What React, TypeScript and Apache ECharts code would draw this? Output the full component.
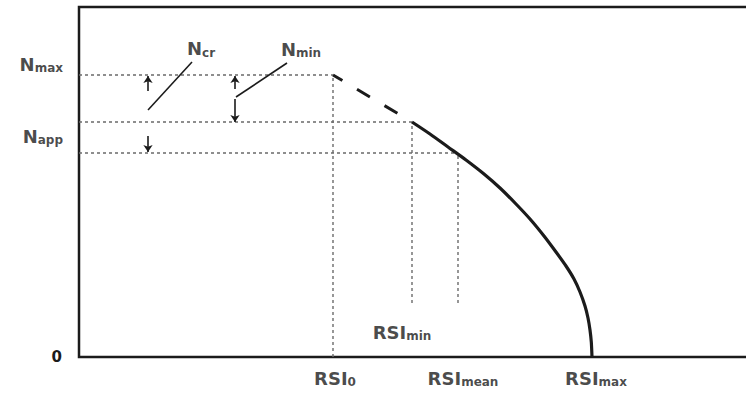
import React, { useEffect, useRef } from "react";
import * as echarts from "echarts";

// Axis extents (arbitrary units: RSI along x, N along y)
const X_MAX = 140;
const Y_MAX = 70;

// Characteristic RSI values
const rsiNames = ["0", "min", "mean", "max"];
const rsiValues = [50.8, 66.6, 75.8, 102.6];

// Characteristic N levels: N_max, N at RSI_min, N_app
const levelNames = ["max", "low", "app"];
const levelValues = [56.4, 47, 40.8];

// Bottom end of the short guides below RSI_min and RSI_mean
const guideFloor = 10.8;

// Falling branch of N(RSI) from RSI_min down to RSI_max
const curveRsi = [
  66.6, 70.2, 73.8, 77.4, 81.0, 84.2, 87.4, 90.2, 93.0, 95.4, 97.4, 99.0, 100.2, 101.2, 101.8, 102.2,
  102.46, 102.6,
];
const curveN = [
  47, 44.6, 42, 39.4, 36.6, 33.8, 30.6, 27.6, 24.2, 21, 18.2, 15.6, 13, 10.2, 7.8, 5.4, 3, 0,
];

// Dimension arrows for N_cr and N_min: [x, tailY, tipY]
const arrowNcr = [
  [13.8, 53.2, 56.2],
  [13.8, 44.2, 41.0],
];
const arrowNmin = [
  [31.2, 53.6, 56.2],
  [31.2, 51.6, 47.0],
];

// Leader lines from the labels to the dimension arrows
const leaderNcr = [
  [22.6, 59.0],
  [13.8, 49.4],
];
const leaderNmin = [
  [41.6, 58.8],
  [31.4, 52.0],
];

// Label anchor centres for N_cr and N_min
const labelNcr = [24.4, 61.7];
const labelNmin = [44.4, 61.6];

const FONT = "'DejaVu Sans', 'Liberation Sans', Arial, sans-serif";
const INK = "#1b1b1b";
const GUIDE = "#6a6a6a";

const rich = {
  b: { fontSize: 18, fontWeight: "bold" as const, fontFamily: FONT, color: INK, lineHeight: 20 },
  s: {
    fontSize: 12,
    fontWeight: "bold" as const,
    fontFamily: FONT,
    color: INK,
    lineHeight: 12,
    verticalAlign: "bottom" as const,
  },
};

const sym = (main: string, sub: string) => `{b|${main}}{s|${sub}}`;

export default function App() {
  const ref = useRef<HTMLDivElement>(null);

  useEffect(() => {
    if (!ref.current) return;
    const chart = echarts.init(ref.current, null, { renderer: "svg" });

    const [rsi0, rsiMin, rsiMean, rsiMax] = rsiValues;
    const [nMax, nLow, nApp] = levelValues;

    const guide = (pts: number[][]) => ({
      type: "line",
      data: pts,
      symbol: "none",
      silent: true,
      lineStyle: { color: GUIDE, width: 1.4, type: [3, 3] },
      z: 2,
    });

    const curveData = curveRsi.map((x, i) => [x, curveN[i]]);

    const arrowData = [...arrowNcr, ...arrowNmin].map(([x, t0, t1]) => ({
      coords: [
        [x, t0],
        [x, t1],
      ],
    }));

    const labelPoint = (value: number[], text: string, label: any) => ({
      value,
      label: { show: true, formatter: text, rich, ...label },
    });

    chart.setOption({
      animation: false,
      backgroundColor: "#ffffff",
      grid: {
        left: 79,
        top: 7,
        width: 700,
        height: 350,
        outerBoundsMode: "none",
        containLabel: false,
        show: true,
        borderColor: INK,
        borderWidth: 2.5,
        backgroundColor: "transparent",
      },
      xAxis: {
        type: "value",
        min: 0,
        max: X_MAX,
        axisLine: { show: false },
        axisTick: { show: false },
        axisLabel: { show: false },
        splitLine: { show: false },
      },
      yAxis: {
        type: "value",
        min: 0,
        max: Y_MAX,
        interval: Y_MAX,
        axisLine: { show: false },
        axisTick: { show: false },
        splitLine: { show: false },
        axisLabel: {
          margin: 17,
          fontSize: 15,
          fontWeight: "bold",
          fontFamily: FONT,
          color: INK,
          formatter: (v: number) => (v === 0 ? "0" : ""),
        },
      },
      series: [
        // horizontal guides from the N axis
        guide([
          [0, nMax],
          [rsi0, nMax],
        ]),
        guide([
          [0, nLow],
          [rsiMin, nLow],
        ]),
        guide([
          [0, nApp],
          [rsiMean, nApp],
        ]),
        // vertical guides
        guide([
          [rsi0, 0],
          [rsi0, nMax],
        ]),
        guide([
          [rsiMin, guideFloor],
          [rsiMin, nLow],
        ]),
        guide([
          [rsiMean, guideFloor],
          [rsiMean, nApp],
        ]),
        // extrapolated part between RSI_0 and RSI_min
        {
          type: "line",
          data: [
            [rsiMin, nLow],
            [rsi0, nMax],
          ],
          symbol: "none",
          silent: true,
          lineStyle: { color: INK, width: 3, type: [15, 17], dashOffset: 15 },
          z: 4,
        },
        // main curve
        {
          type: "line",
          data: curveData,
          symbol: "none",
          smooth: 0.25,
          silent: true,
          lineStyle: { color: INK, width: 3.2, join: "round" },
          z: 5,
        },
        // dimension arrows
        {
          type: "lines",
          coordinateSystem: "cartesian2d",
          data: arrowData,
          symbol: ["none", "arrow"],
          symbolSize: 7,
          silent: true,
          lineStyle: { color: INK, width: 1.6, opacity: 1 },
          z: 6,
        },
        // leader lines
        {
          type: "lines",
          coordinateSystem: "cartesian2d",
          data: [{ coords: leaderNcr }, { coords: leaderNmin }],
          symbol: ["none", "none"],
          silent: true,
          lineStyle: { color: INK, width: 1.6, opacity: 1 },
          z: 6,
        },
        // text labels
        {
          type: "scatter",
          symbolSize: 0,
          silent: true,
          clip: false,
          z: 10,
          data: [
            labelPoint([0, nMax], sym("N", levelNames[0]), {
              position: "left",
              distance: 16,
              offset: [0, -11],
            }),
            labelPoint([0, nApp], sym("N", levelNames[2]), {
              position: "left",
              distance: 16,
              offset: [0, -17],
            }),
            labelPoint(labelNcr, sym("N", "cr"), { position: "inside" }),
            labelPoint(labelNmin, sym("N", "min"), { position: "inside" }),
            labelPoint([rsi0, 0], sym("RSI", rsiNames[0]), {
              position: "bottom",
              distance: 11,
              offset: [2, 0],
            }),
            labelPoint([rsiMin, 0], sym("RSI", rsiNames[1]), {
              position: "top",
              distance: 15,
              offset: [-10, 0],
            }),
            labelPoint([rsiMean, 0], sym("RSI", rsiNames[2]), {
              position: "bottom",
              distance: 11,
              offset: [5, 0],
            }),
            labelPoint([rsiMax, 0], sym("RSI", rsiNames[3]), {
              position: "bottom",
              distance: 11,
              offset: [4, 0],
            }),
          ],
        },
      ],
    });

    return () => chart.dispose();
  }, []);

  return (
    <div
      ref={ref}
      style={{ position: "fixed", left: 0, top: 0, width: 746, height: 400, background: "#fff" }}
    />
  );
}
